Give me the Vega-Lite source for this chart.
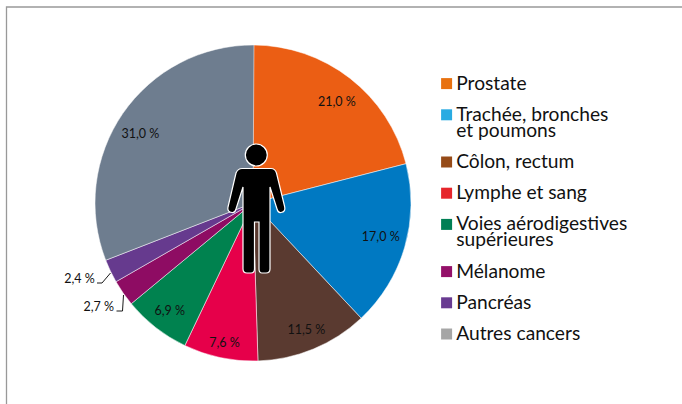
{
"$schema":"https://vega.github.io/schema/vega-lite/v6.json",
"width":316,"height":316,
"autosize":{"type":"none"},
"padding":{"left":95,"top":45,"right":271,"bottom":43},
"background":"white",
"view":{"stroke":null},
"datasets":{"cancers":[
{"cancer":"Prostate","rank":1,"part":21.0,"label":"21,0 %"},
{"cancer":"Trachée, bronches|et poumons","rank":2,"part":17.0,"label":"17,0 %"},
{"cancer":"Côlon, rectum","rank":3,"part":11.5,"label":"11,5 %"},
{"cancer":"Lymphe et sang","rank":4,"part":7.6,"label":"7,6 %"},
{"cancer":"Voies aérodigestives|supérieures","rank":5,"part":6.9,"label":"6,9 %"},
{"cancer":"Mélanome","rank":6,"part":2.7,"label":"2,7 %"},
{"cancer":"Pancréas","rank":7,"part":2.4,"label":"2,4 %"},
{"cancer":"Autres cancers","rank":8,"part":31.0,"label":"31,0 %"}
]},
"data":{"name":"cancers"},
"resolve":{"scale":{"color":"independent"}},
"layer":[
{"mark":{"type":"arc","stroke":"#ffffff","strokeWidth":0.5},
"encoding":{
"theta":{"field":"part","type":"quantitative","stack":true,"scale":{"domain":[0,100]}},
"order":{"field":"rank","type":"ordinal"},
"color":{"field":"cancer","type":"nominal","legend":null,
"scale":{"domain":["Prostate","Trachée, bronches|et poumons","Côlon, rectum","Lymphe et sang","Voies aérodigestives|supérieures","Mélanome","Pancréas","Autres cancers"],
"range":["#EB5E14","#0079C2","#5A3A30","#E6004A","#00824F","#8E0C63","#663A8E","#6E7D8F"]}}}},
{"mark":{"type":"arc","opacity":0},
"encoding":{
"theta":{"field":"part","type":"quantitative","stack":true,"scale":{"domain":[0,100]}},
"order":{"field":"rank","type":"ordinal"},
"color":{"field":"cancer","type":"nominal",
"scale":{"domain":["Prostate","Trachée, bronches|et poumons","Côlon, rectum","Lymphe et sang","Voies aérodigestives|supérieures","Mélanome","Pancréas","Autres cancers"],
"range":["#E8710F","#29ABE2","#964B18","#E6252B","#007F54","#941069","#693B91","#A6A6A6"]},
"legend":{"title":null,"orient":"none","legendX":342,"legendY":29,"symbolType":"square","symbolSize":121,"symbolOpacity":1,"symbolStrokeWidth":0,"labelFont":"Lato","labelFontSize":19.2,"labelColor":"#111111","labelLimit":300,"labelOffset":0,"rowPadding":11.2,"labelExpr":"split(datum.label,'|')","padding":0,
"encoding":{"labels":{"lineHeight":{"value":16}}}}}}},
{"mark":{"type":"text","font":"Lato","fontSize":12.5,"color":"#111111",
"radius":{"expr":"datum.part<3?189:(datum.part<8&&datum.part>7.5?143:(datum.part==11.5||datum.part==6.9?137:132))"},
"dx":{"expr":"datum.part==21?3:datum.part==17?1:datum.part==31?-4:datum.part==2.4?-3:datum.part==2.7?1:1"},
"dy":{"expr":"datum.part==21?3:datum.part==17?-3:datum.part==31?6:datum.part==2.4?-6:datum.part==2.7?-4:0"}},
"encoding":{
"theta":{"field":"part","type":"quantitative","stack":true,"scale":{"domain":[0,100]}},
"order":{"field":"rank","type":"ordinal"},
"text":{"field":"label"}}},
{"data":{"values":[{"item":"figure"}]},
"mark":{"type":"point","filled":true,"fill":"#000000","stroke":"#ffffff","strokeWidth":1.2,"opacity":1,"size":4,
"shape":"M14.3,-48A11,11 0 1 1 -7.7,-48A11,11 0 1 1 14.3,-48Z M-11,-34.5L18,-34.5Q22,-34.5 23.5,-30L31.5,3Q33,9 28,9.5Q25,10 24,6L17,-16L17,66Q17,70 13,70L9,70Q6,70 6,66L6,19L1.5,19L1.5,66Q1.5,70 -2,70L-6,70Q-10,70 -10,66L-10,-16L-17,6Q-18,10 -21,9.5Q-26,9 -25,4L-17,-30Q-15,-34.5 -11,-34.5Z"}},
{"data":{"values":[{"item":"leaders"}]},
"mark":{"type":"point","filled":false,"fill":null,"stroke":"#1a1a1a","strokeWidth":1,"opacity":1,"size":4,
"shape":"M-156,80L-151,80L-142.5,70M-136.5,108L-130.5,108L-129.5,92"}},
{"data":{"values":[{"item":"frame"}]},
"mark":{"type":"point","filled":false,"fill":null,"stroke":"#999999","strokeWidth":1.3,"opacity":1,"size":4,
"shape":"M-246.5,201L-246.5,-196L429,-196"}}
]
}
